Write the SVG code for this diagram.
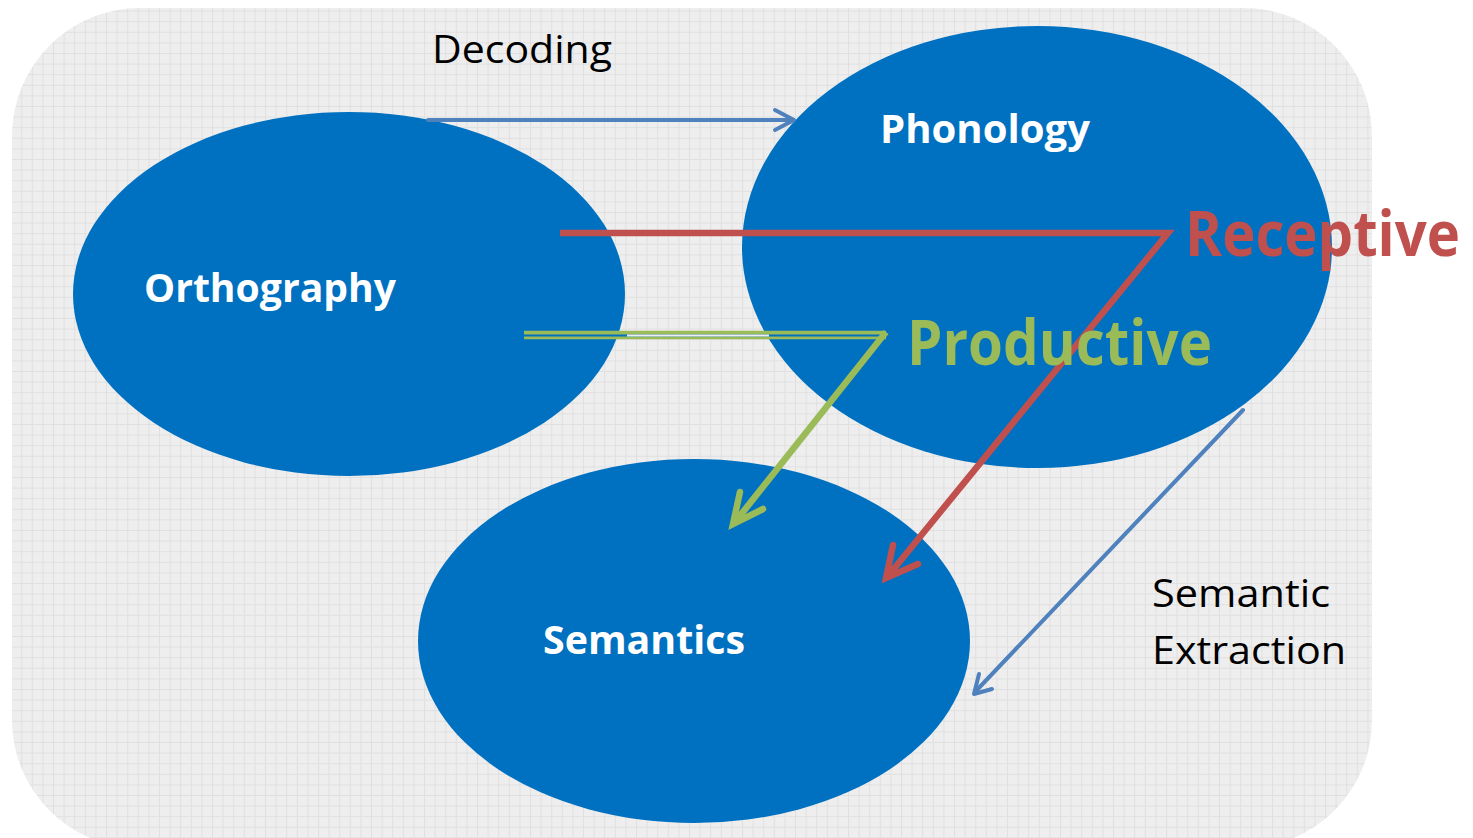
<svg xmlns="http://www.w3.org/2000/svg" width="1473" height="838" viewBox="0 0 1473 838">
<defs>
<pattern id="grid" width="10.6" height="10.6" patternUnits="userSpaceOnUse">
<rect width="10.6" height="10.6" fill="#eeeeee"/>
<path d="M0 0.5H10.6M0.5 0V10.6" stroke="#e0e0e0" stroke-width="1" fill="none"/>
</pattern>
<style>
.node{fill:#0070C0}
.lbl{font-family:"Open Sans","Liberation Sans",sans-serif;font-weight:bold;font-size:40px;fill:#ffffff}
.txt{font-family:"Open Sans","Liberation Sans",sans-serif;font-size:38px;fill:#000000}
.big{font-family:"Open Sans","Liberation Sans",sans-serif;font-weight:bold;font-size:62px}
.blue{stroke:#4F81BD;stroke-width:4;fill:none;stroke-linecap:round;stroke-linejoin:round}
.red{stroke:#C0504D;stroke-width:6.5;fill:none;stroke-linejoin:miter}
.green{stroke:#9BBB59;stroke-width:6.5;fill:none;stroke-linejoin:miter}
</style>
</defs>
<rect x="0" y="0" width="1473" height="838" fill="#ffffff"/>
<rect x="12" y="8" width="1360" height="840" rx="128" ry="128" fill="url(#grid)"/>
<g id="orthography">
<ellipse class="node" cx="349" cy="294" rx="276" ry="182"/>
<text class="lbl" x="144" y="302" textLength="252" lengthAdjust="spacingAndGlyphs">Orthography</text>
</g>
<g id="phonology">
<ellipse class="node" cx="1037" cy="247" rx="295" ry="221"/>
<text class="lbl" x="880" y="143" textLength="210" lengthAdjust="spacingAndGlyphs">Phonology</text>
</g>
<g id="semantics">
<ellipse class="node" cx="694" cy="641" rx="276" ry="182"/>
<text class="lbl" x="543" y="654" textLength="202" lengthAdjust="spacingAndGlyphs">Semantics</text>
</g>
<g id="connectors">
<path class="blue" d="M428 120H793"/>
<path class="blue" d="M775 110L794 120L775 130"/>
<path class="red" d="M560 233H1168L888 576"/>
<path class="red" d="M893 545L886 578L918 564" stroke-linecap="round" stroke-linejoin="round"/>
<path d="M524 335H886" stroke="#9BBB59" stroke-width="8.5" fill="none"/>
<path d="M524 335.5H883" stroke="#0070C0" stroke-width="2" fill="none"/>
<path d="M627 335.5H769" stroke="#eeeeee" stroke-width="2" fill="none"/>
<path class="green" d="M886 332L735 522"/>
<path class="green" d="M740 492L733 524L763 509" stroke-linecap="round" stroke-linejoin="round"/>
<path class="blue" d="M1243 410L975 692"/>
<path class="blue" d="M979 674L974 694L992 689"/>
</g>
<text class="txt" x="432" y="63" textLength="180" lengthAdjust="spacingAndGlyphs">Decoding</text>
<text class="big" x="1185" y="256" fill="#C0504D" textLength="275" lengthAdjust="spacingAndGlyphs">Receptive</text>
<text class="big" x="907" y="365" fill="#9BBB59" textLength="305" lengthAdjust="spacingAndGlyphs">Productive</text>
<text class="txt" x="1152" y="607" textLength="178" lengthAdjust="spacingAndGlyphs">Semantic</text>
<text class="txt" x="1152" y="664" textLength="194" lengthAdjust="spacingAndGlyphs">Extraction</text>
</svg>
